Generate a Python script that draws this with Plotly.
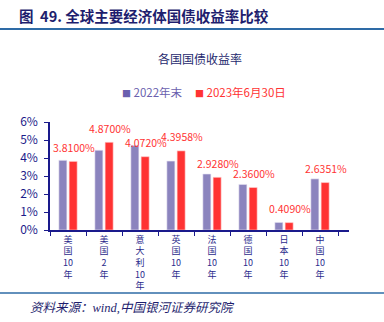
import plotly.graph_objects as go

categories = ["美国10年", "美国2年", "意大利10年", "英国10年", "法国10年", "德国10年", "日本10年", "中国10年"]
yield_2022 = [3.87, 4.43, 4.70, 3.83, 3.11, 2.53, 0.42, 2.84]
yield_2023 = [3.81, 4.87, 4.072, 4.3958, 2.928, 2.36, 0.409, 2.6351]
series_names = ["2022年末", "2023年6月30日"]
y_ticks = [0, 1, 2, 3, 4, 5, 6]
y_ticklabels = [f"{t}%" for t in y_ticks]

W, H = 384, 322
L, R, T, B = 50, 35, 122, 92
PW, PH = W - L - R, H - T - B

def px(x):
    return (x - L) / PW

def py(y):
    return (H - B - y) / PH

PURPLE = "#8B84BE"
RED = "#FF3333"
NAVY = "#23237A"
FONT = "Noto Sans CJK SC, Noto Sans, sans-serif"

def stack(s):
    parts = []
    i = 0
    while i < len(s):
        if s[i].isdigit():
            j = i
            while j < len(s) and s[j].isdigit():
                j += 1
            parts.append(s[i:j])
            i = j
        else:
            parts.append(s[i])
            i += 1
    return "<br>".join(parts)

fig = go.Figure()
fig.add_trace(go.Bar(x=categories, y=yield_2022, name=series_names[0],
                     marker=dict(color=PURPLE, line=dict(color="#E8E4F4", width=0.6))))
fig.add_trace(go.Bar(x=categories, y=yield_2023, name=series_names[1],
                     marker=dict(color=RED, line=dict(color="#FFD0D0", width=0.6))))

annotations = []
for c, v in zip(categories, yield_2023):
    annotations.append(dict(x=c, y=v, xref="x", yref="y", text=f"{v:.4f}%",
                            showarrow=False, xshift=6, yshift=14, yanchor="middle",
                            font=dict(family=FONT, size=10.5, color=RED)))

# header
annotations.append(dict(x=px(17), y=py(15), xref="paper", yref="paper", xanchor="left", yanchor="middle",
                        text="<b>图  49. 全球主要经济体国债收益率比较</b>", showarrow=False,
                        font=dict(family=FONT, size=14.5, color="#1E1E6E")))
# chart title
annotations.append(dict(x=px(200), y=py(58), xref="paper", yref="paper", xanchor="center", yanchor="middle",
                        text="各国国债收益率", showarrow=False,
                        font=dict(family=FONT, size=12, color="#1F2A6E")))
# legend
annotations.append(dict(x=px(120), y=py(92), xref="paper", yref="paper", xanchor="left", yanchor="middle",
                        text="<span style='font-size:9px'>■</span> " + series_names[0], showarrow=False,
                        font=dict(family=FONT, size=11.5, color="#6A5FAE")))
annotations.append(dict(x=px(193), y=py(92), xref="paper", yref="paper", xanchor="left", yanchor="middle",
                        text="<span style='font-size:9px'>■</span> " + series_names[1], showarrow=False,
                        font=dict(family=FONT, size=11.5, color=RED)))
# source
annotations.append(dict(x=px(28), y=py(308), xref="paper", yref="paper", xanchor="left", yanchor="middle",
                        text="<i>资料来源：wind,中国银河证券研究院</i>", showarrow=False,
                        font=dict(family="Liberation Serif, Noto Sans CJK SC, serif", size=12.5, color="#1E1E6E")))

shapes = [
    dict(type="line", xref="paper", yref="paper", x0=px(0), x1=px(384), y0=py(29), y1=py(29),
         line=dict(color="#2E6BA6", width=2)),
    dict(type="line", xref="paper", yref="paper", x0=px(0), x1=px(384), y0=py(293), y1=py(293),
         line=dict(color="#2E6BA6", width=1.5)),
]

fig.update_layout(
    width=W, height=H,
    margin=dict(l=L, r=R, t=T, b=B, pad=0),
    paper_bgcolor="white", plot_bgcolor="white",
    barmode="group", bargap=0.43, bargroupgap=0.22,
    showlegend=False,
    annotations=annotations, shapes=shapes,
    font=dict(family=FONT, color=NAVY),
)
fig.update_xaxes(
    tickmode="array", tickvals=categories, ticktext=[stack(c) for c in categories],
    tickangle=0, tickson="boundaries", ticks="outside", ticklen=4, tickcolor="#1A1A8C",
    showline=True, linecolor="#1A1A8C", linewidth=1.5, showgrid=False,
    tickfont=dict(family=FONT, size=9, color="#2B2B8C"),
)
fig.update_yaxes(
    range=[0, 6], tickvals=y_ticks, ticktext=y_ticklabels,
    ticks="outside", ticklen=4, tickcolor="#1A1A8C",
    showline=True, linecolor="#1A1A8C", linewidth=1.5, showgrid=False, zeroline=False,
    tickfont=dict(family=FONT, size=12, color="#1C1C8A"), ticklabelstandoff=4,
)

fig.write_html("out.html")
